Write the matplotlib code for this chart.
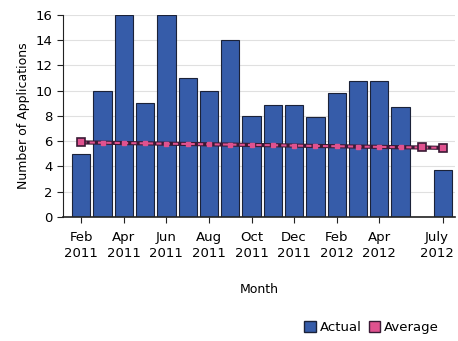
import numpy as np
import matplotlib.pyplot as plt
import matplotlib.transforms as mtrans
from matplotlib.patches import Patch

months = ["Feb 2011", "Mar 2011", "Apr 2011", "May 2011", "Jun 2011", "Jul 2011",
          "Aug 2011", "Sep 2011", "Oct 2011", "Nov 2011", "Dec 2011", "Jan 2012",
          "Feb 2012", "Mar 2012", "Apr 2012", "May 2012", "Jun 2012", "July 2012"]
actual = [5, 10, 16, 9, 16, 11, 10, 14, 8, 8.9, 8.9, 7.9, 9.8, 10.8, 10.8, 8.7, 0, 3.7]
average = [5.9, 5.88, 5.85, 5.83, 5.8, 5.78, 5.75, 5.73, 5.7, 5.68, 5.65, 5.62,
           5.6, 5.57, 5.55, 5.52, 5.5, 5.47]
tick_idx = [0, 2, 4, 6, 8, 10, 12, 14, 17]
tick_labels = ["Feb\n2011", "Apr\n2011", "Jun\n2011", "Aug\n2011", "Oct\n2011",
               "Dec\n2011", "Feb\n2012", "Apr\n2012", "July\n2012"]

BAR_BLUE = '#365ca9'
PINK = '#e0528f'
DARK = '#3a1a35'

fig = plt.figure(figsize=(4.58, 3.41), dpi=100)
ax = fig.add_axes([0.138, 0.364, 0.855, 0.592])

x = np.arange(len(months))
ax.bar(x, actual, width=0.86, color=BAR_BLUE, edgecolor='#1b2238', linewidth=0.8, zorder=2)

# average line: dark underlay + pink dashes
ax.plot(x, average, color=DARK, linewidth=3.0, zorder=3)
ax.plot(x, average, color=PINK, linewidth=1.5, linestyle=(0, (2.5, 1.5)), zorder=4)
ax.plot(x, average, linestyle='none', marker='s', markersize=3.5,
        markerfacecolor=PINK, markeredgecolor=PINK, zorder=5)
big = [0, len(x) - 2, len(x) - 1]
ax.plot(x[big], [average[i] for i in big], linestyle='none', marker='s', markersize=6,
        markerfacecolor=PINK, markeredgecolor=DARK, markeredgewidth=1.2, zorder=6)

ax.set_ylim(0, 16)
ax.set_xlim(-0.85, 17.55)
ax.set_yticks(range(0, 17, 2))
ax.set_xticks(tick_idx)
ax.set_xticklabels(tick_labels, linespacing=1.3)
ax.tick_params(axis='both', labelsize=9.5, color='#222222', length=4)
ax.tick_params(axis='x', pad=6)
# keep the last label inside the figure
last = ax.get_xticklabels()[-1]
last.set_transform(last.get_transform() + mtrans.ScaledTranslation(-0.06, 0, fig.dpi_scale_trans))

ax.yaxis.grid(True, color='#e0e0e0', linewidth=0.8, zorder=0)
ax.set_axisbelow(True)
for s in ['top', 'right']:
    ax.spines[s].set_visible(False)
ax.spines['left'].set_color('#222222')
ax.spines['bottom'].set_color('#222222')
ax.spines['bottom'].set_linewidth(1.2)

ax.set_ylabel('Number of Applications', fontsize=9)
ax.set_xlabel('Month', fontsize=9, labelpad=17)

handles = [Patch(facecolor=BAR_BLUE, edgecolor='#1b2238'),
           Patch(facecolor=PINK, edgecolor=DARK)]
fig.legend(handles, ['Actual', 'Average'], loc='lower right', bbox_to_anchor=(0.985, -0.015),
           ncol=2, frameon=False, fontsize=9.5, handlelength=0.9, handleheight=0.9,
           handletextpad=0.3, columnspacing=0.5)

fig.savefig('out.png', dpi=100)
